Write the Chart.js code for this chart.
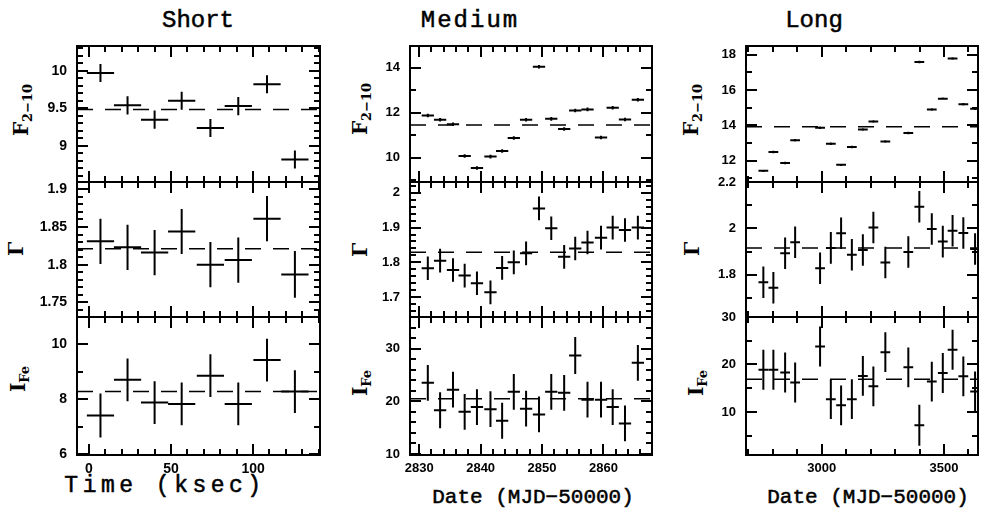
<!DOCTYPE html>
<html>
<head>
<meta charset="utf-8">
<script src="https://cdn.jsdelivr.net/npm/chart.js@4.4.1/dist/chart.umd.min.js"></script>
<style>
body{margin:0;background:#fff;width:982px;height:511px;position:relative;overflow:hidden}
canvas{position:absolute}
.t{position:absolute;transform:translate(-50%,-50%);white-space:nowrap;font-family:"Liberation Mono",monospace;color:#000;-webkit-text-stroke:0.5px #000}
.yt{position:absolute;transform:translate(-50%,-50%) rotate(-90deg);white-space:nowrap;font-family:"DejaVu Serif",serif;font-weight:bold;font-size:20px;color:#000}
.yt sub{font-size:13px;vertical-align:-4px}
</style>
</head>
<body>

<div class="t" style="left:198px;top:20px;font-size:24px">Short</div>
<div class="t" style="left:470px;top:20px;font-size:24px;letter-spacing:2px">Medium</div>
<div class="t" style="left:814px;top:20px;font-size:24px">Long</div>

<div class="t" style="left:165px;top:486px;font-size:23px;letter-spacing:4.5px">Time (ksec)</div>
<div class="t" style="left:533px;top:497px;font-size:21px">Date (MJD&minus;50000)</div>
<div class="t" style="left:868px;top:497px;font-size:21px">Date (MJD&minus;50000)</div>

<div class="yt" style="left:22px;top:110px">F<sub>2&minus;10</sub></div>
<div class="yt" style="left:16px;top:249px">&Gamma;</div>
<div class="yt" style="left:19px;top:379px">I<sub>Fe</sub></div>
<div class="yt" style="left:361px;top:109px">F<sub>2&minus;10</sub></div>
<div class="yt" style="left:360px;top:250px">&Gamma;</div>
<div class="yt" style="left:361px;top:383px">I<sub>Fe</sub></div>
<div class="yt" style="left:692px;top:110px">F<sub>2&minus;10</sub></div>
<div class="yt" style="left:692px;top:249px">&Gamma;</div>
<div class="yt" style="left:697px;top:383px">I<sub>Fe</sub></div>

<script>
/* DATA */

// Short (ksec)
const shortTime = [7, 23.5, 40, 56.5, 74, 91, 108.5, 125.5];
const shortTimeErr = [8.3, 8.3, 8.3, 8.3, 8.3, 8.3, 8.3, 8.3];
const shortFlux = [9.97, 9.54, 9.35, 9.60, 9.24, 9.53, 9.82, 8.82];
const shortFluxErr = [0.12, 0.12, 0.12, 0.12, 0.12, 0.12, 0.12, 0.12];
const shortGamma = [1.831, 1.823, 1.816, 1.844, 1.800, 1.806, 1.861, 1.787];
const shortGammaErr = [0.030, 0.030, 0.030, 0.030, 0.030, 0.030, 0.030, 0.031];
const shortFe = [7.41, 8.71, 7.88, 7.83, 8.86, 7.83, 9.43, 8.28];
const shortFeErr = [0.80, 0.78, 0.78, 0.78, 0.78, 0.78, 0.78, 0.78];

// Medium (MJD-50000)
const medDate = [2831.4, 2833.4, 2835.5, 2837.4, 2839.4, 2841.6, 2843.5, 2845.4, 2847.4,
                 2849.5, 2851.5, 2853.6, 2855.4, 2857.4, 2859.6, 2861.5, 2863.5, 2865.6];
const medDateErr = [1,1,1,1,1,1,1,1,1,1,1,1,1,1,1,1,1,1];
const medFlux = [11.88, 11.69, 11.49, 10.08, 9.54, 10.05, 10.30, 10.88, 11.69,
                 14.05, 11.73, 11.28, 12.10, 12.15, 10.90, 12.22, 11.70, 12.58];
const medFluxErr = [0.08,0.08,0.08,0.08,0.08,0.08,0.08,0.08,0.08,0.08,0.08,0.08,0.08,0.08,0.08,0.08,0.08,0.08];
const medGamma = [1.783, 1.805, 1.778, 1.762, 1.740, 1.714, 1.784, 1.800, 1.826,
                  1.955, 1.898, 1.816, 1.840, 1.857, 1.871, 1.900, 1.893, 1.900];
const medGammaErr = [0.034,0.034,0.034,0.034,0.034,0.034,0.034,0.034,0.034,0.034,0.034,0.034,0.034,0.034,0.034,0.034,0.034,0.034];
const medFe = [23.5, 18.3, 22.2, 18.0, 18.9, 18.5, 16.3, 21.8, 18.6,
               17.5, 21.8, 21.6, 28.7, 20.3, 20.3, 18.9, 15.8, 27.3];
const medFeErr = [3.4,3.4,3.4,3.4,3.4,3.4,3.4,3.4,3.4,3.4,3.4,3.4,3.5,3.4,3.4,3.4,3.4,3.4];

// Long (MJD-50000)
const longDate = [2761, 2802, 2850, 2891, 2993, 3037, 3079, 3123, 3168,
                  3211, 3260, 3354, 3399, 3450, 3495, 3535, 3579, 3627];
const longDateErr = [20,20,20,20,20,20,20,20,20,20,20,20,20,20,20,20,20,20];
const longFlux = [11.43, 12.50, 11.87, 13.17, 13.87, 12.97, 11.77, 12.78, 13.77,
                  14.23, 13.09, 13.57, 17.60, 14.91, 15.52, 17.79, 15.20, 14.95];
const longFluxErr = [0.07,0.07,0.07,0.07,0.07,0.07,0.07,0.07,0.07,0.07,0.07,0.07,0.07,0.07,0.07,0.07,0.07,0.07];
const longGamma = [1.768, 1.744, 1.893, 1.940, 1.828, 1.916, 1.979, 1.886, 1.907,
                   2.004, 1.853, 1.898, 2.093, 1.997, 1.943, 1.990, 1.980, 1.911];
const longGammaErr = [0.068,0.068,0.068,0.068,0.068,0.068,0.068,0.068,0.068,0.068,0.068,0.068,0.068,0.068,0.068,0.068,0.068,0.068];
const longFe = [18.9, 18.9, 18.3, 16.2, 23.8, 12.7, 11.4, 12.7, 17.6,
                15.4, 22.6, 19.4, 7.2, 16.4, 18.2, 23.1, 17.5, 14.3];
const longFeErr = [4.2,4.2,4.2,4.2,4.2,4.2,4.2,4.2,4.2,4.2,4.2,4.2,4.3,4.2,4.2,4.2,4.2,4.2];

// constant model (dashed lines)
const shortModel = [9.485, 1.821, 8.28];
const medModel = [11.46, 1.829, 20.5];
const longModel = [13.93, 1.916, 16.9];

// tick labels
const shortXTicks = [0, 50, 100];
const medXTicks = [2830, 2840, 2850, 2860];
const longXTicks = [3000, 3500];
const shortYTicks = [[9, 9.5, 10], [1.75, 1.8, 1.85, 1.9], [6, 8, 10]];
const medYTicks = [[10, 12, 14], [1.7, 1.8, 1.9, 2], [10, 20, 30]];
const longYTicks = [[12, 14, 16, 18], [1.8, 2, 2.2], [10, 20, 30]];

/* LAYOUT */
const ROWS = [[46,182],[182,317],[317,455]];
const COLS = [[77,320],[410,652],[746,978]];
const PAD = 20;

Chart.defaults.font.family = '"Liberation Sans", Arial, sans-serif';
Chart.defaults.font.weight = 'bold';
Chart.defaults.color = '#000';

// all tick positions on the minor grid, flagged major, with the label if any
function axisTicks(lo, hi, major, minor, labels){
  const out = [];
  const n0 = Math.ceil(lo / minor - 1e-6), n1 = Math.floor(hi / minor + 1e-6);
  for (let k = n0; k <= n1; k++) {
    const v = k * minor;
    const r = v / major;
    out.push({
      value: v,
      major: Math.abs(r - Math.round(r)) < 1e-6,
      lab: labels.find(l => Math.abs(l - v) < 1e-6)
    });
  }
  return out;
}

// grid lines dashed so only a short piece shows at each end = inward ticks
function tickDash(len){
  return c => (c.tick && c.tick.major) ? [11, len - 22] : [6, len - 12];
}

// frame around the plot area
const frame = {
  id: 'frame',
  afterDraw(c){
    const ctx = c.ctx, a = c.chartArea;
    ctx.save();
    ctx.strokeStyle = '#000';
    ctx.lineWidth = 2;
    ctx.setLineDash([]);
    ctx.strokeRect(a.left, a.top, a.right - a.left, a.bottom - a.top);
    ctx.restore();
  }
};

// error bar crosses as line segments split by gaps
function crosses(xs, xe, ys, ye){
  const pts = [];
  xs.forEach((x, i) => {
    pts.push({x: x - xe[i], y: ys[i]}, {x: x + xe[i], y: ys[i]}, {x: x, y: null});
    pts.push({x: x, y: ys[i] - ye[i]}, {x: x, y: ys[i] + ye[i]}, {x: x, y: null});
  });
  return pts;
}

function panel(p){
  const [L, R] = COLS[p.col], [T, B] = ROWS[p.row];
  const bottom = p.row === 2;
  const W = (R - L) + 60 + 10, H = (B - T) + PAD + (bottom ? 30 : PAD);
  const cv = document.createElement('canvas');
  cv.width = W; cv.height = H;
  cv.style.left = (L - 60) + 'px';
  cv.style.top = (T - PAD) + 'px';
  document.body.appendChild(cv);

  const xt = axisTicks(p.xr[0], p.xr[1], p.xMajor, p.xMinor, p.xTicks);
  const yt = axisTicks(p.yr[0], p.yr[1], p.yMajor, p.yMinor, p.yTicks);
  const label = (v, i, ticks) => ticks[i].lab === undefined ? '' : String(ticks[i].lab);

  new Chart(cv, {
    type: 'line',
    data: {
      datasets: [{
        data: crosses(p.xs, p.xe, p.ys, p.ye),
        borderColor: '#000', borderWidth: 2, pointRadius: 0, spanGaps: false, tension: 0
      }, {
        data: [{x: p.xr[0], y: p.model}, {x: p.xr[1], y: p.model}],
        borderColor: '#000', borderWidth: 1.5, borderDash: [16, 12], pointRadius: 0
      }]
    },
    options: {
      responsive: false, animation: false, devicePixelRatio: 1,
      layout: {padding: {left: 0, top: PAD, right: 10, bottom: bottom ? 0 : PAD}},
      plugins: {legend: {display: false}, tooltip: {enabled: false}},
      scales: {
        x: {
          type: 'linear', min: p.xr[0], max: p.xr[1],
          grid: {display: true, drawOnChartArea: true, drawTicks: false, color: '#000', lineWidth: 2},
          border: {display: false, dash: tickDash(B - T)},
          afterBuildTicks: s => { s.ticks = xt.map(t => Object.assign({}, t)); },
          afterFit: s => { s.height = bottom ? 30 : 0; },
          ticks: {display: bottom, padding: 6, autoSkip: false, maxRotation: 0,
                  font: {size: p.fs}, callback: label}
        },
        y: {
          type: 'linear', min: p.yr[0], max: p.yr[1],
          grid: {display: true, drawOnChartArea: true, drawTicks: false, color: '#000', lineWidth: 2},
          border: {display: false, dash: tickDash(R - L)},
          afterBuildTicks: s => { s.ticks = yt.map(t => Object.assign({}, t)); },
          afterFit: s => { s.width = 60; },
          ticks: {padding: 10, autoSkip: false, font: {size: p.fs}, callback: label}
        }
      }
    },
    plugins: [frame]
  });
}

/* SHORT */
const shortX = [-7.3, 140.8];
panel({col:0,row:0,xr:shortX,yr:[8.52,10.33],xs:shortTime,xe:shortTimeErr,ys:shortFlux,ye:shortFluxErr,
  model:shortModel[0],xTicks:shortXTicks,yTicks:shortYTicks[0],xMajor:50,xMinor:10,yMajor:0.5,yMinor:0.1,fs:14});
panel({col:0,row:1,xr:shortX,yr:[1.7305,1.9097],xs:shortTime,xe:shortTimeErr,ys:shortGamma,ye:shortGammaErr,
  model:shortModel[1],xTicks:shortXTicks,yTicks:shortYTicks[1],xMajor:50,xMinor:10,yMajor:0.05,yMinor:0.01,fs:14});
panel({col:0,row:2,xr:shortX,yr:[5.97,11.0],xs:shortTime,xe:shortTimeErr,ys:shortFe,ye:shortFeErr,
  model:shortModel[2],xTicks:shortXTicks,yTicks:shortYTicks[2],xMajor:50,xMinor:10,yMajor:2,yMinor:1,fs:14});

/* MEDIUM */
const medX = [2828.5, 2867.9];
panel({col:1,row:0,xr:medX,yr:[8.92,14.97],xs:medDate,xe:medDateErr,ys:medFlux,ye:medFluxErr,
  model:medModel[0],xTicks:medXTicks,yTicks:medYTicks[0],xMajor:10,xMinor:2,yMajor:2,yMinor:1,fs:13});
panel({col:1,row:1,xr:medX,yr:[1.643,2.031],xs:medDate,xe:medDateErr,ys:medGamma,ye:medGammaErr,
  model:medModel[1],xTicks:medXTicks,yTicks:medYTicks[1],xMajor:10,xMinor:2,yMajor:0.1,yMinor:0.02,fs:13});
panel({col:1,row:2,xr:medX,yr:[9.8,36],xs:medDate,xe:medDateErr,ys:medFe,ye:medFeErr,
  model:medModel[2],xTicks:medXTicks,yTicks:medYTicks[2],xMajor:10,xMinor:2,yMajor:10,yMinor:2,fs:13});

/* LONG */
const longX = [2690, 3639];
panel({col:2,row:0,xr:longX,yr:[10.8,18.5],xs:longDate,xe:longDateErr,ys:longFlux,ye:longFluxErr,
  model:longModel[0],xTicks:longXTicks,yTicks:longYTicks[0],xMajor:500,xMinor:100,yMajor:2,yMinor:1,fs:13});
panel({col:2,row:1,xr:longX,yr:[1.618,2.2],xs:longDate,xe:longDateErr,ys:longGamma,ye:longGammaErr,
  model:longModel[1],xTicks:longXTicks,yTicks:longYTicks[1],xMajor:500,xMinor:100,yMajor:0.2,yMinor:0.1,fs:13});
panel({col:2,row:2,xr:longX,yr:[0.94,30],xs:longDate,xe:longDateErr,ys:longFe,ye:longFeErr,
  model:longModel[2],xTicks:longXTicks,yTicks:longYTicks[2],xMajor:500,xMinor:100,yMajor:10,yMinor:5,fs:13});
</script>
</body>
</html>
